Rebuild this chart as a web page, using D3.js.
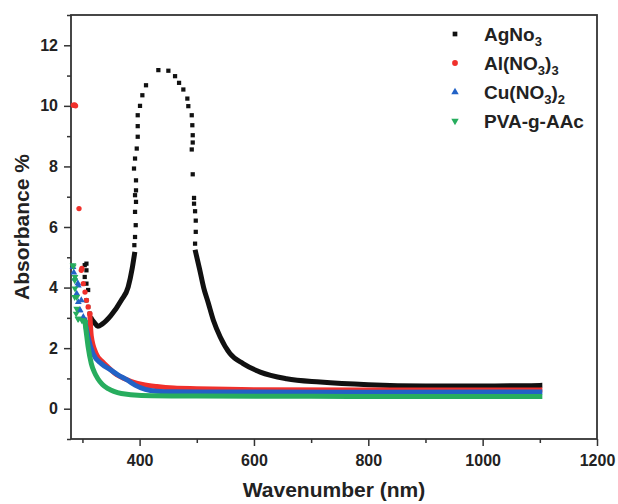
<!DOCTYPE html>
<html>
<head>
<meta charset="utf-8">
<script src="https://cdn.jsdelivr.net/npm/d3@7"></script>
<style>
  html, body { margin: 0; padding: 0; background: #fff; }
  svg text { font-family: "Liberation Sans", Arial, sans-serif; font-weight: bold; fill: #222; }
</style>
</head>
<body>
<svg id="chart" width="618" height="504"></svg>
<script>
// Axis ranges and ticks
const xDomain = [280, 1200];
const yDomain = [-1, 13];
const xMajorTicks = [400, 600, 800, 1000, 1200];
const xMinorTicks = [300, 500, 700, 900, 1100];
const yMajorTicks = [0, 2, 4, 6, 8, 10, 12];
const yMinorTicks = [-1, 1, 3, 5, 7, 9, 11, 13];

// AgNO3: sharp points near 305 nm, smooth trace, sparse points over the band, tail
const agSpikes = [[304,4.74],[307,4.79],[307,4.57],[304,4.35],[307,4.13],[310,3.92],[307,3.58],[310,3.36],[312.7,3.14],[315.5,2.97]];
const agRise = [[315.5,2.97],[321,2.84],[327,2.72],[335,2.80],[350,3.08],[368,3.58],[380,4.02],[387,4.63],[391,5.10]];
const agBand = [[390.8,5.40],[392,5.67],[393.2,6.06],[392,6.50],[393.7,6.83],[392,7.05],[393.7,7.21],[393.7,7.54],[390.2,7.93],[392,8.26],[395,8.59],[396.7,8.98],[396.7,9.33],[396.7,9.69],[400.7,10.0],[404.8,10.35],[411.2,10.68],[432.8,11.18],[450.3,11.16],[462,10.98],[469,10.76],[476.5,10.54],[483.5,10.24],[485.2,9.99],[491.2,9.69],[492.2,9.36],[492.9,9.03],[492.9,8.79],[491.2,8.56],[492.9,7.74],[495.2,6.96],[495.2,6.77],[497,6.52],[498.2,6.21],[498.2,5.84],[497,5.45]];
const agTail = [[498,5.17],[505,4.6],[512,4.0],[520,3.5],[529,2.92],[541,2.37],[558,1.82],[581,1.49],[611,1.21],[657,0.99],[716,0.88],[800,0.79],[900,0.75],[1000,0.75],[1100,0.77]];

// Al(NO3)3
const alSpikes = [[284,10.02],[286.5,10.03],[288,10.0],[294,6.61],[298,4.57],[299,4.63],[301.5,4.13],[304.5,3.85],[307,3.58],[310,3.36],[313,3.14]];
const alTrace = [[313,3.10],[315.5,2.40],[324,1.82],[335,1.55],[345,1.37],[360,1.12],[374,0.99],[390,0.87],[405,0.80],[430,0.73],[460,0.68],[500,0.66],[600,0.63],[800,0.62],[1100,0.62]];

// Cu(NO3)2
const cuSpikes = [[283.5,4.68],[285,4.50],[287,4.30],[292,4.14],[292.8,4.07],[290,3.80],[292.8,3.52],[298,3.58],[295,3.25],[296,3.25],[301.5,3.03],[304,2.92]];
const cuTrace = [[304,2.92],[309.7,2.37],[318.5,1.82],[333,1.49],[348,1.30],[362,1.12],[378,0.95],[392,0.78],[410,0.64],[430,0.58],[460,0.56],[600,0.55],[800,0.54],[1100,0.55]];

// PVA-g-AAc
const pvaSpikes = [[283.5,4.74],[284,4.70],[286.5,4.24],[287,4.35],[287,3.97],[286.5,3.69],[290,3.69],[290,3.30],[289,3.14],[293,2.97],[292,2.97],[299,2.92],[301,2.92],[304.5,2.86]];
const pvaTrace = [[304.5,2.86],[307,2.48],[310,2.04],[315.5,1.49],[321,1.20],[327,0.99],[335,0.80],[345,0.66],[355,0.57],[368,0.50],[403,0.44],[500,0.42],[700,0.41],[900,0.40],[1100,0.40]];

const seriesNames = ["AgNo3", "Al(NO3)3", "Cu(NO3)2", "PVA-g-AAc"];
const legendParts = [
  [["AgNo", false], ["3", true]],
  [["Al(NO", false], ["3", true], [")", false], ["3", true]],
  [["Cu(NO", false], ["3", true], [")", false], ["2", true]],
  [["PVA-g-AAc", false]]
];

const series = [
  { color: "#111111", symbol: d3.symbolSquare, rot: 0, size: 18, traces: [agRise, agTail], points: agSpikes.concat(agBand) },
  { color: "#f0302b", symbol: d3.symbolCircle, rot: 0, size: 22, traces: [alTrace], points: alSpikes },
  { color: "#2262c6", symbol: d3.symbolTriangle, rot: 0, size: 20, traces: [cuTrace], points: cuSpikes },
  { color: "#27ad5e", symbol: d3.symbolTriangle, rot: 180, size: 20, traces: [pvaTrace], points: pvaSpikes }
];

const W = 618, H = 504;
const margin = { top: 15, right: 21, bottom: 65, left: 71 };
const svg = d3.select("#chart");

const x = d3.scaleLinear().domain(xDomain).range([margin.left, W - margin.right]);
const y = d3.scaleLinear().domain(yDomain).range([H - margin.bottom, margin.top]);

const axisColor = "#333";

// minor ticks
svg.append("g")
  .attr("transform", `translate(0,${y(yDomain[0])})`)
  .call(d3.axisBottom(x).tickValues(xMinorTicks).tickSize(4).tickFormat(""))
  .call(g => g.select(".domain").remove())
  .call(g => g.selectAll("line").attr("stroke", axisColor).attr("stroke-width", 1.5));
svg.append("g")
  .attr("transform", `translate(${x(xDomain[0])},0)`)
  .call(d3.axisLeft(y).tickValues(yMinorTicks).tickSize(4).tickFormat(""))
  .call(g => g.select(".domain").remove())
  .call(g => g.selectAll("line").attr("stroke", axisColor).attr("stroke-width", 1.5));

// major ticks with labels
svg.append("g")
  .attr("transform", `translate(0,${y(yDomain[0])})`)
  .call(d3.axisBottom(x).tickValues(xMajorTicks).tickSize(7).tickPadding(9).tickFormat(d3.format("d")))
  .call(g => g.select(".domain").remove())
  .call(g => g.selectAll("line").attr("stroke", axisColor).attr("stroke-width", 1.5))
  .call(g => g.selectAll("text").attr("font-size", 16).attr("fill", "#222")
    .style("font-family", "'Liberation Sans', Arial, sans-serif").style("font-weight", "bold"));
svg.append("g")
  .attr("transform", `translate(${x(xDomain[0])},0)`)
  .call(d3.axisLeft(y).tickValues(yMajorTicks).tickSize(7).tickPadding(6).tickFormat(d3.format("d")))
  .call(g => g.select(".domain").remove())
  .call(g => g.selectAll("line").attr("stroke", axisColor).attr("stroke-width", 1.5))
  .call(g => g.selectAll("text").attr("font-size", 16).attr("fill", "#222")
    .style("font-family", "'Liberation Sans', Arial, sans-serif").style("font-weight", "bold"));

// plot frame
svg.append("rect")
  .attr("x", x(xDomain[0])).attr("y", y(yDomain[1]))
  .attr("width", x(xDomain[1]) - x(xDomain[0]))
  .attr("height", y(yDomain[0]) - y(yDomain[1]))
  .attr("fill", "none").attr("stroke", axisColor).attr("stroke-width", 1.8);

// data
const line = d3.line().x(d => x(d[0])).y(d => y(d[1])).curve(d3.curveMonotoneX);
const plot = svg.append("g");
series.forEach(s => {
  const g = plot.append("g");
  s.traces.forEach(t => {
    g.append("path").datum(t).attr("d", line)
      .attr("fill", "none").attr("stroke", s.color).attr("stroke-width", 5)
      .attr("stroke-linejoin", "round").attr("stroke-linecap", "square");
  });
  g.selectAll("path.pt").data(s.points).join("path").attr("class", "pt")
    .attr("d", d3.symbol().type(s.symbol).size(s.size))
    .attr("transform", d => `translate(${x(d[0])},${y(d[1])}) rotate(${s.rot})`)
    .attr("fill", s.color);
});

// axis titles
svg.append("text")
  .attr("x", (x(xDomain[0]) + x(xDomain[1])) / 2).attr("y", 497)
  .attr("text-anchor", "middle").attr("font-size", 21)
  .text("Wavenumber (nm)");
svg.append("text")
  .attr("transform", `translate(29,${(y(yDomain[0]) + y(yDomain[1])) / 2}) rotate(-90)`)
  .attr("text-anchor", "middle").attr("font-size", 21)
  .text("Absorbance %");

// legend
const legend = svg.append("g");
series.forEach((s, i) => {
  const cy = 34 + i * 29;
  legend.append("path")
    .attr("d", d3.symbol().type(s.symbol).size(s.size + 4))
    .attr("transform", `translate(455,${cy}) rotate(${s.rot})`)
    .attr("fill", s.color);
  const t = legend.append("text").attr("x", 484).attr("y", cy + 7).attr("font-size", 19)
    .attr("aria-label", seriesNames[i]);
  let shifted = false;
  legendParts[i].forEach(([txt, sub]) => {
    const sp = t.append("tspan").text(txt);
    if (sub && !shifted) { sp.attr("dy", 5).attr("font-size", 13); shifted = true; }
    else if (sub) { sp.attr("font-size", 13); }
    else if (!sub && shifted) { sp.attr("dy", -5); shifted = false; }
  });
});
</script>
</body>
</html>
